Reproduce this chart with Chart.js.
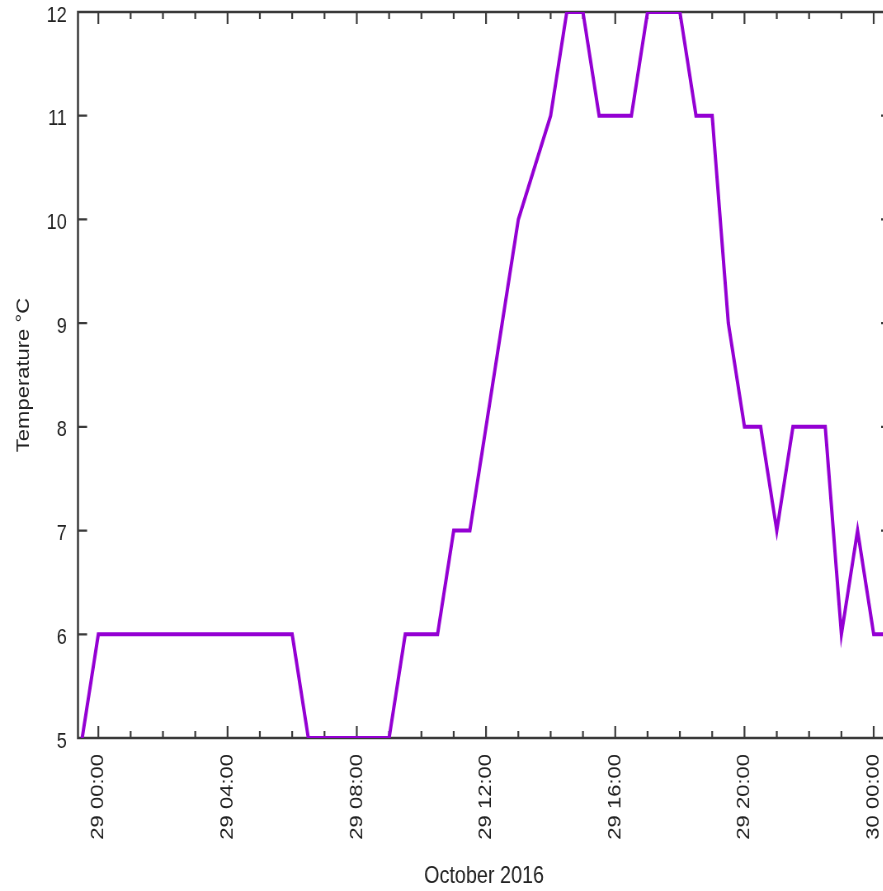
<!DOCTYPE html>
<html>
<head>
<meta charset="utf-8">
<script src="https://cdn.jsdelivr.net/npm/chart.js@4/dist/chart.umd.min.js"></script>
<style>
  html, body { margin: 0; padding: 0; background: #fff; overflow: hidden; }
</style>
</head>
<body>
<!-- drawn wide, then squeezed horizontally to fit the page -->
<canvas id="tempChart" width="1080" height="891" style="width:891px;height:891px;display:block"></canvas>
<script>
// half-hourly readings, "day hh:mm"
const times = [
  "28 23:30",
  "29 00:00", "29 00:30", "29 01:00", "29 01:30", "29 02:00", "29 02:30",
  "29 03:00", "29 03:30", "29 04:00", "29 04:30", "29 05:00", "29 05:30",
  "29 06:00", "29 06:30", "29 07:00", "29 07:30", "29 08:00", "29 08:30",
  "29 09:00", "29 09:30", "29 10:00", "29 10:30", "29 11:00", "29 11:30",
  "29 12:00", "29 12:30", "29 13:00", "29 14:00", "29 14:30", "29 15:00",
  "29 15:30", "29 16:00", "29 16:30", "29 17:00", "29 17:30", "29 18:00",
  "29 18:30", "29 19:00", "29 19:30", "29 20:00", "29 20:30", "29 21:00",
  "29 21:30", "29 22:00", "29 22:30", "29 23:00", "29 23:30",
  "30 00:00", "30 00:30"
];
const temps = [
  5,
  6, 6, 6, 6, 6, 6,
  6, 6, 6, 6, 6, 6,
  6, 5, 5, 5, 5, 5,
  5, 6, 6, 6, 7, 7,
  8, 9, 10, 11, 12, 12,
  11, 11, 11, 12, 12, 12,
  11, 11, 9, 8, 8, 7,
  8, 8, 8, 6, 7,
  6, 6
];
const yTicks = [5, 6, 7, 8, 9, 10, 11, 12];

// hours counted from 29 00:00
function toHours(s) {
  const [d, hm] = s.split(" ");
  const [h, m] = hm.split(":").map(Number);
  return (Number(d) - 29) * 24 + h + m / 60;
}
function fmtHours(v) {
  const day = 29 + Math.floor(v / 24);
  const h = ((v % 24) + 24) % 24;
  return day + " " + String(h).padStart(2, "0") + ":00";
}

const points = times.map((t, i) => ({ x: toHours(t), y: temps[i] }));

const axisColor = "#3a3a3a";
const tickFont = { family: "'Liberation Sans', Arial, sans-serif", size: 22 };

// border box with inward ticks on all four sides
const frame = {
  id: "frame",
  beforeDatasetsDraw(chart) {
    const { ctx, chartArea: a, scales: { x, y } } = chart;
    ctx.save();
    ctx.strokeStyle = axisColor;
    ctx.lineWidth = 2.5;
    ctx.strokeRect(a.left, a.top, a.right - a.left, a.bottom - a.top);
    ctx.lineWidth = 2.2;
    ctx.beginPath();
    for (let h = Math.ceil(x.min); h <= x.max; h++) {
      const px = x.getPixelForValue(h);
      const len = h % 4 === 0 ? 12 : 7;
      ctx.moveTo(px, a.bottom); ctx.lineTo(px, a.bottom - len);
      ctx.moveTo(px, a.top); ctx.lineTo(px, a.top + len);
    }
    yTicks.forEach(v => {
      const py = y.getPixelForValue(v);
      ctx.moveTo(a.left, py); ctx.lineTo(a.left + 11, py);
      ctx.moveTo(a.right, py); ctx.lineTo(a.right - 11, py);
    });
    ctx.stroke();
    ctx.restore();
  }
};

new Chart(document.getElementById("tempChart"), {
  type: "line",
  data: {
    datasets: [{
      data: points,
      borderColor: "#9400d3",
      borderWidth: 4,
      borderJoinStyle: "miter",
      pointRadius: 0,
      tension: 0,
      fill: false,
    }],
  },
  options: {
    responsive: false,
    devicePixelRatio: 1,
    animation: false,
    layout: { padding: { top: 12, right: 1, left: 0, bottom: 0 } },
    plugins: { legend: { display: false }, tooltip: { enabled: false } },
    scales: {
      x: {
        type: "linear",
        min: -0.63,
        max: 24.51,
        afterFit: s => { s.height = 153; s.paddingLeft = 0; s.paddingRight = 0; },
        grid: { display: false, drawTicks: false },
        border: { display: false },
        ticks: {
          stepSize: 4,
          includeBounds: false,
          autoSkip: false,
          minRotation: 90,
          maxRotation: 90,
          padding: 16,
          color: "#222",
          font: tickFont,
          callback: v => fmtHours(v),
        },
        title: {
          display: true,
          text: "October 2016",
          color: "#222",
          font: { family: "'Liberation Sans Narrow', 'Liberation Sans', sans-serif", size: 24, lineHeight: 1 },
          padding: { top: 0, bottom: 3 },
        },
      },
      y: {
        min: 5,
        max: 12,
        afterFit: s => { s.width = 94.5; s.paddingTop = 0; s.paddingBottom = 0; },
        grid: { display: false, drawTicks: false },
        border: { display: false },
        ticks: {
          stepSize: 1,
          padding: 13.5,
          labelOffset: 3.5,
          color: "#222",
          font: tickFont,
        },
        title: {
          display: true,
          text: "Temperature °C",
          color: "#222",
          font: { family: "'Liberation Sans', Arial, sans-serif", size: 22, lineHeight: 1 },
          padding: { top: 18, bottom: 0 },
        },
      },
    },
  },
  plugins: [frame],
});
</script>
</body>
</html>
